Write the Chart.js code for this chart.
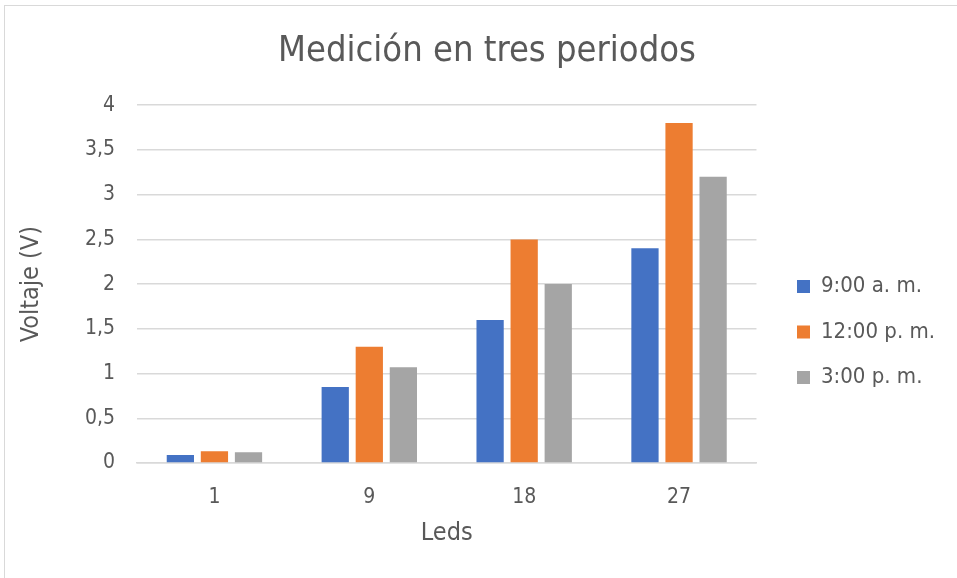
<!DOCTYPE html>
<html><head><meta charset="utf-8">
<script src="https://cdn.jsdelivr.net/npm/chart.js@4"></script>
<style>
html,body{margin:0;padding:0;background:#fff;}
#wrap{position:absolute;left:0;top:0;width:957px;height:578px;}
#frame{position:absolute;left:4px;top:5px;width:960px;height:580px;border:1px solid #d9d9d9;box-sizing:border-box;}
canvas{position:absolute;left:0;top:0;}
</style></head>
<body>
<div id="wrap"><div id="frame"></div><canvas id="c" width="957" height="578"></canvas></div>
<script>
const categories = ['1', '9', '18', '27'];
const seriesNames = ['9:00 a. m.', '12:00 p. m.', '3:00 p. m.'];
const am9 = [0.09, 0.85, 1.6, 2.4];
const pm12 = [0.13, 1.3, 2.5, 3.8];
const pm3 = [0.12, 1.07, 2.0, 3.2];
const yTickLabels = ['0', '0,5', '1', '1,5', '2', '2,5', '3', '3,5', '4'];
const colors = ['#4472c4', '#ed7d31', '#a5a5a5'];
const FONT = "'DejaVu Sans Condensed', 'DejaVu Sans', sans-serif";
const TXT = '#595959';
const LEG_PAD = 23.5;

const boxShift = {
  id: 'boxShift',
  afterLayout(chart) {
    const lg = chart.legend;
    const dy = 42;
    lg.top += dy; lg.bottom += dy;
    const dx = (797 - LEG_PAD) - lg.left;
    lg.left += dx; lg.right += dx;
    const tb = chart.titleBlock;
    if (tb) { tb.left += 18; tb.right += 18; tb.top -= 2; tb.bottom -= 2; }
  }
};

new Chart(document.getElementById('c'), {
  type: 'bar',
  data: {
    labels: categories,
    datasets: [am9, pm12, pm3].map((d, i) => ({
      label: seriesNames[i], data: d, backgroundColor: colors[i],
      categoryPercentage: 0.66, barPercentage: 0.8
    }))
  },
  plugins: [boxShift],
  options: {
    responsive: false, animation: false,
    layout: { padding: { left: 10, right: 29, top: 22, bottom: 20 } },
    plugins: {
      title: { display: true, text: 'Medición en tres periodos', color: TXT,
        font: { family: FONT, size: 36, weight: 'normal' }, padding: { top: 10, bottom: 30 } },
      legend: { position: 'right', align: 'center',
        labels: { color: TXT, font: { family: FONT, size: 22 }, boxWidth: 13, boxHeight: 13, padding: LEG_PAD } },
      tooltip: { enabled: false }
    },
    scales: {
      x: {
        grid: { display: false },
        border: { color: '#d9d9d9', width: 1.5 },
        ticks: { color: TXT, font: { family: FONT, size: 21 }, padding: 14 },
        title: { display: true, text: 'Leds', color: TXT, font: { family: FONT, size: 25 }, padding: { top: 4, bottom: 10 } },
        afterFit(s) { s.height = 578 - 20 - 463; }
      },
      y: {
        min: 0, max: 4,
        grid: { color: '#d9d9d9', lineWidth: 1.5, drawTicks: false },
        border: { display: false },
        ticks: { stepSize: 0.5, color: TXT, font: { family: FONT, size: 21 }, padding: 22,
          callback: (v, i) => yTickLabels[i] },
        title: { display: true, text: 'Voltaje (V)', color: TXT, font: { family: FONT, size: 25 }, padding: { top: 6, bottom: 8 } },
        afterFit(s) { s.width = 137 - 10; }
      }
    }
  }
});
</script>
</body></html>
